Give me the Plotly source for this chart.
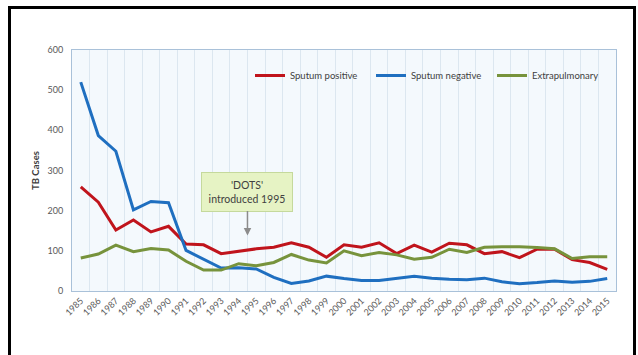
import plotly.graph_objects as go

years = [str(y) for y in range(1985, 2016)]

sputum_positive = [259, 221, 152, 177, 147, 161, 117, 115, 93, 99, 105, 109, 120, 109, 84,
                   115, 109, 120, 93, 114, 97, 119, 115, 93, 98, 83, 104, 104, 78, 71, 54]
sputum_negative = [520, 387, 348, 202, 223, 220, 101, 80, 57, 58, 55, 34, 19, 25, 37,
                   31, 26, 26, 31, 37, 32, 29, 28, 32, 23, 18, 21, 25, 22, 24, 31]
extrapulmonary = [82, 92, 114, 98, 106, 102, 74, 52, 52, 68, 63, 71, 91, 77, 70,
                  100, 88, 96, 90, 79, 84, 104, 96, 109, 110, 110, 108, 105, 81, 85, 85]

series = [
    ("Sputum positive", sputum_positive, "#c0141c"),
    ("Sputum negative", sputum_negative, "#1f6fc0"),
    ("Extrapulmonary", extrapulmonary, "#77933c"),
]

fig = go.Figure()
for name, vals, color in series:
    fig.add_trace(go.Scatter(
        x=years, y=vals, name=name, mode="lines",
        line=dict(color=color, width=3),
    ))

W, H = 638, 355
L, R, T, B = 72, 22, 50, 64
pw, ph = W - L - R, H - T - B


def px_x(X):
    return (X - L) / pw


def px_y(Y):
    return (H - B - Y) / ph


# outer black frame (open at the bottom edge of the image)
fig.add_shape(type="rect", xref="paper", yref="paper",
              x0=px_x(9.5), x1=px_x(634.5), y0=px_y(370), y1=px_y(7.5),
              line=dict(color="black", width=3), fillcolor="rgba(0,0,0,0)",
              layer="above")

fig.add_annotation(
    x=9.5, y=138, xref="x", yref="y",
    text="'DOTS'<br>introduced 1995",
    showarrow=True, ax=0, ay=-44, axref="pixel", ayref="pixel",
    arrowhead=2, arrowsize=1, arrowwidth=1.5, arrowcolor="#8c8c8c",
    font=dict(family="Lato", size=10.5, color="#404040"),
    bgcolor="#e6f3c4", bordercolor="#c5d99c", borderwidth=1, borderpad=4,
    width=82, height=30, align="center",
)

fig.update_layout(
    width=W, height=H,
    margin=dict(l=L, r=R, t=T, b=B, pad=0, autoexpand=False),
    paper_bgcolor="white",
    plot_bgcolor="#f4f9fd",
    font=dict(family="Lato", size=9, color="#595959"),
    showlegend=True,
    legend=dict(
        orientation="h", x=px_x(250), y=px_y(61), xanchor="left", yanchor="top",
        bgcolor="rgba(0,0,0,0)", font=dict(family="Lato", size=9.5, color="#404040"),
        itemwidth=30, entrywidth=76, entrywidthmode="pixels",
        tracegroupgap=0,
    ),
    xaxis=dict(
        type="category", tickangle=-45, tickson="boundaries",
        showgrid=True, gridcolor="#dce7f0", gridwidth=1,
        showline=True, linecolor="#a9c1d9", linewidth=1, mirror=True,
        ticks="", tickfont=dict(family="Lato", size=9, color="#595959"),
        range=[-0.5, 30.5],
    ),
    yaxis=dict(
        range=[0, 600], dtick=100, showgrid=False, zeroline=False,
        showline=True, linecolor="#a9c1d9", linewidth=1, mirror=True,
        ticks="", ticklabelstandoff=6,
        tickfont=dict(family="Lato", size=9, color="#595959"),
        title=dict(text="<b>TB Cases</b>", standoff=6,
                   font=dict(family="Lato", size=9.5, color="#404040")),
    ),
)

fig.write_html("out.html")
